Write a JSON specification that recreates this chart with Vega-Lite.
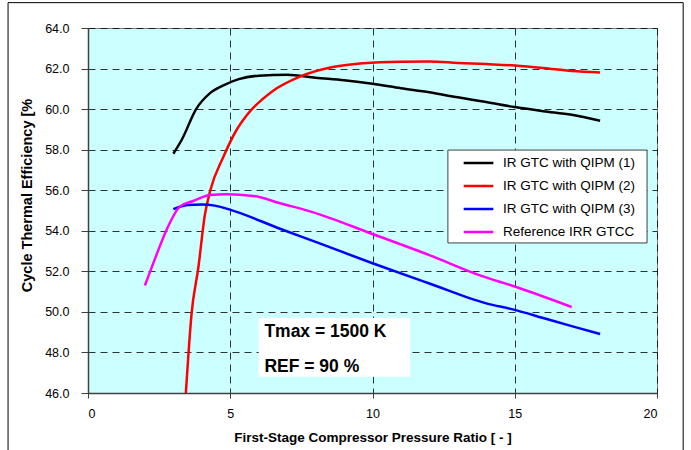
{
  "$schema": "https://vega.github.io/schema/vega-lite/v6.json",
  "width": 569,
  "height": 365,
  "autosize": "none",
  "padding": {"left": 88, "top": 28, "right": 34, "bottom": 57},
  "background": "white",
  "config": {
    "font": "Liberation Sans",
    "view": {"fill": "#CCFFFF", "stroke": "#808080", "strokeWidth": 1},
    "axis": {
      "labelFont": "Liberation Sans",
      "labelFontSize": 12.5,
      "labelColor": "#000000",
      "titleFont": "Liberation Sans",
      "titleFontWeight": "bold",
      "titleColor": "#000000",
      "domainColor": "#404040",
      "domainWidth": 1.5,
      "tickColor": "#404040",
      "gridColor": "#000000",
      "gridDash": [7, 5],
      "gridWidth": 1,
      "gridOpacity": 0.8
    }
  },
  "datasets": {
    "curves": [
      {"pr": 3.0, "eff": 57.8, "series": "IR GTC with QIPM (1)"},
      {"pr": 3.3, "eff": 58.5, "series": "IR GTC with QIPM (1)"},
      {"pr": 3.8, "eff": 60.0, "series": "IR GTC with QIPM (1)"},
      {"pr": 4.3, "eff": 60.8, "series": "IR GTC with QIPM (1)"},
      {"pr": 4.8, "eff": 61.2, "series": "IR GTC with QIPM (1)"},
      {"pr": 5.3, "eff": 61.48, "series": "IR GTC with QIPM (1)"},
      {"pr": 6.0, "eff": 61.65, "series": "IR GTC with QIPM (1)"},
      {"pr": 7.0, "eff": 61.7, "series": "IR GTC with QIPM (1)"},
      {"pr": 8.0, "eff": 61.55, "series": "IR GTC with QIPM (1)"},
      {"pr": 9.0, "eff": 61.42, "series": "IR GTC with QIPM (1)"},
      {"pr": 10.0, "eff": 61.25, "series": "IR GTC with QIPM (1)"},
      {"pr": 11.0, "eff": 61.03, "series": "IR GTC with QIPM (1)"},
      {"pr": 12.0, "eff": 60.83, "series": "IR GTC with QIPM (1)"},
      {"pr": 13.0, "eff": 60.58, "series": "IR GTC with QIPM (1)"},
      {"pr": 14.0, "eff": 60.35, "series": "IR GTC with QIPM (1)"},
      {"pr": 15.0, "eff": 60.1, "series": "IR GTC with QIPM (1)"},
      {"pr": 16.0, "eff": 59.9, "series": "IR GTC with QIPM (1)"},
      {"pr": 17.0, "eff": 59.72, "series": "IR GTC with QIPM (1)"},
      {"pr": 18.0, "eff": 59.43, "series": "IR GTC with QIPM (1)"},

      {"pr": 3.44, "eff": 46.0, "series": "IR GTC with QIPM (2)"},
      {"pr": 3.64, "eff": 49.9, "series": "IR GTC with QIPM (2)"},
      {"pr": 3.88, "eff": 52.2, "series": "IR GTC with QIPM (2)"},
      {"pr": 4.11, "eff": 54.8, "series": "IR GTC with QIPM (2)"},
      {"pr": 4.3, "eff": 56.0, "series": "IR GTC with QIPM (2)"},
      {"pr": 4.76, "eff": 57.65, "series": "IR GTC with QIPM (2)"},
      {"pr": 5.22, "eff": 58.97, "series": "IR GTC with QIPM (2)"},
      {"pr": 5.58, "eff": 59.7, "series": "IR GTC with QIPM (2)"},
      {"pr": 6.46, "eff": 60.86, "series": "IR GTC with QIPM (2)"},
      {"pr": 7.45, "eff": 61.6, "series": "IR GTC with QIPM (2)"},
      {"pr": 8.56, "eff": 62.06, "series": "IR GTC with QIPM (2)"},
      {"pr": 9.68, "eff": 62.26, "series": "IR GTC with QIPM (2)"},
      {"pr": 11.0, "eff": 62.34, "series": "IR GTC with QIPM (2)"},
      {"pr": 12.0, "eff": 62.35, "series": "IR GTC with QIPM (2)"},
      {"pr": 13.0, "eff": 62.28, "series": "IR GTC with QIPM (2)"},
      {"pr": 14.0, "eff": 62.22, "series": "IR GTC with QIPM (2)"},
      {"pr": 15.0, "eff": 62.15, "series": "IR GTC with QIPM (2)"},
      {"pr": 16.0, "eff": 62.03, "series": "IR GTC with QIPM (2)"},
      {"pr": 17.0, "eff": 61.88, "series": "IR GTC with QIPM (2)"},
      {"pr": 18.0, "eff": 61.81, "series": "IR GTC with QIPM (2)"},

      {"pr": 3.0, "eff": 55.07, "series": "IR GTC with QIPM (3)"},
      {"pr": 3.5, "eff": 55.27, "series": "IR GTC with QIPM (3)"},
      {"pr": 4.0, "eff": 55.3, "series": "IR GTC with QIPM (3)"},
      {"pr": 4.46, "eff": 55.24, "series": "IR GTC with QIPM (3)"},
      {"pr": 4.93, "eff": 55.07, "series": "IR GTC with QIPM (3)"},
      {"pr": 6.75, "eff": 54.1, "series": "IR GTC with QIPM (3)"},
      {"pr": 8.0, "eff": 53.45, "series": "IR GTC with QIPM (3)"},
      {"pr": 10.0, "eff": 52.4, "series": "IR GTC with QIPM (3)"},
      {"pr": 12.0, "eff": 51.4, "series": "IR GTC with QIPM (3)"},
      {"pr": 14.0, "eff": 50.42, "series": "IR GTC with QIPM (3)"},
      {"pr": 15.0, "eff": 50.1, "series": "IR GTC with QIPM (3)"},
      {"pr": 16.0, "eff": 49.7, "series": "IR GTC with QIPM (3)"},
      {"pr": 17.0, "eff": 49.3, "series": "IR GTC with QIPM (3)"},
      {"pr": 18.0, "eff": 48.91, "series": "IR GTC with QIPM (3)"},

      {"pr": 2.0, "eff": 51.3, "series": "Reference IRR GTCC"},
      {"pr": 2.36, "eff": 52.64, "series": "Reference IRR GTCC"},
      {"pr": 2.76, "eff": 54.04, "series": "Reference IRR GTCC"},
      {"pr": 3.23, "eff": 55.19, "series": "Reference IRR GTCC"},
      {"pr": 3.7, "eff": 55.47, "series": "Reference IRR GTCC"},
      {"pr": 4.29, "eff": 55.77, "series": "Reference IRR GTCC"},
      {"pr": 4.87, "eff": 55.8, "series": "Reference IRR GTCC"},
      {"pr": 5.81, "eff": 55.72, "series": "Reference IRR GTCC"},
      {"pr": 6.75, "eff": 55.36, "series": "Reference IRR GTCC"},
      {"pr": 7.92, "eff": 54.91, "series": "Reference IRR GTCC"},
      {"pr": 10.0, "eff": 53.84, "series": "Reference IRR GTCC"},
      {"pr": 12.0, "eff": 52.8, "series": "Reference IRR GTCC"},
      {"pr": 13.78, "eff": 51.8, "series": "Reference IRR GTCC"},
      {"pr": 15.0, "eff": 51.25, "series": "Reference IRR GTCC"},
      {"pr": 17.0, "eff": 50.24, "series": "Reference IRR GTCC"}
    ],
    "notebox": [{"x1": 6.0, "x2": 11.32, "y1": 46.8, "y2": 49.7}],
    "legendbox": [{"x1": 12.65, "x2": 19.65, "y1": 53.4, "y2": 57.98}],
    "notes": [
      {"x": 6.2, "y": 49.02, "label": "Tmax = 1500 K"},
      {"x": 6.2, "y": 47.3, "label": "REF = 90 %"}
    ],
    "frame": [{"x1": -2.81, "x2": 20.92, "y1": 42.5, "y2": 65.25}]
  },
  "layer": [
    {
      "data": {"name": "frame"},
      "mark": {"type": "rect", "fill": null, "stroke": "#000000", "strokeWidth": 1, "clip": false},
      "encoding": {
        "x": {"field": "x1", "type": "quantitative", "scale": {"domain": [0, 20], "nice": false}},
        "x2": {"field": "x2"},
        "y": {"field": "y1", "type": "quantitative", "scale": {"domain": [46, 64], "nice": false}},
        "y2": {"field": "y2"}
      }
    },
    {
      "data": {"name": "curves"},
      "mark": {"type": "line", "strokeWidth": 2.5, "clip": true, "interpolate": "monotone"},
      "encoding": {
        "x": {
          "field": "pr", "type": "quantitative",
          "scale": {"domain": [0, 20], "nice": false},
          "axis": {"values": [0, 5, 10, 15, 20], "title": "First-Stage Compressor Pressure Ratio [ - ]", "titleFontSize": 13.5, "titlePadding": 11, "tickSize": 5, "labelPadding": 9}
        },
        "y": {
          "field": "eff", "type": "quantitative",
          "scale": {"domain": [46, 64], "nice": false, "zero": false},
          "axis": {"values": [46, 48, 50, 52, 54, 56, 58, 60, 62, 64], "format": ".1f", "title": "Cycle Thermal Efficiency [%", "titleFontSize": 14.5, "titlePadding": 10, "titleY": 167, "tickSize": 7, "labelPadding": 12}
        },
        "color": {
          "field": "series", "type": "nominal",
          "scale": {
            "domain": ["IR GTC with QIPM (1)", "IR GTC with QIPM (2)", "IR GTC with QIPM (3)", "Reference IRR GTCC"],
            "range": ["#000000", "#FF0000", "#0000FF", "#FF00FF"]
          },
          "legend": {
            "title": null,
            "orient": "none",
            "legendX": 374,
            "legendY": 118.5,
            "padding": 0,
            "symbolType": "stroke",
            "symbolStrokeWidth": 2.5,
            "symbolSize": 880,
            "labelOffset": 8,
            "labelFont": "Liberation Sans",
            "labelFontSize": 13.5,
            "labelColor": "#000000",
            "rowPadding": 0,
            "labelLimit": 300,
            "zindex": 2
          }
        },
        "order": {"field": "pr", "type": "quantitative"}
      }
    },
    {
      "data": {"name": "legendbox"},
      "mark": {"type": "rect", "fill": "#FFFFFF", "stroke": "#404040", "strokeWidth": 1},
      "encoding": {
        "x": {"field": "x1", "type": "quantitative"},
        "x2": {"field": "x2"},
        "y": {"field": "y1", "type": "quantitative"},
        "y2": {"field": "y2"}
      }
    },
    {
      "data": {"name": "notebox"},
      "mark": {"type": "rect", "fill": "#FFFFFF", "stroke": null},
      "encoding": {
        "x": {"field": "x1", "type": "quantitative"},
        "x2": {"field": "x2"},
        "y": {"field": "y1", "type": "quantitative"},
        "y2": {"field": "y2"}
      }
    },
    {
      "data": {"name": "notes"},
      "mark": {"type": "text", "align": "left", "baseline": "middle", "font": "Liberation Sans", "fontSize": 17.5, "fontWeight": "bold", "color": "#000000"},
      "encoding": {
        "x": {"field": "x", "type": "quantitative"},
        "y": {"field": "y", "type": "quantitative"},
        "text": {"field": "label"}
      }
    }
  ]
}
